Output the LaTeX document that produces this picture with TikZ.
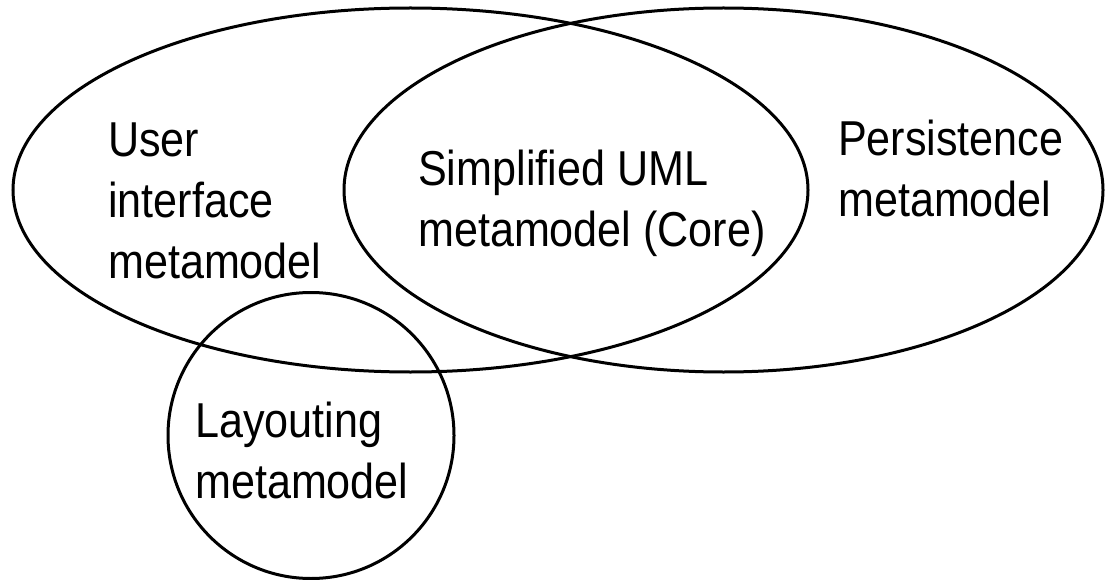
\documentclass[tikz,border=0pt]{standalone}
\usepackage{fontspec}
\setmainfont{Liberation Sans}[FakeStretch=0.88]
\usetikzlibrary{positioning}

\tikzset{
  setline/.style={black, line width=3pt},
  setlabel/.style={align=left, anchor=base west, inner sep=0pt, text=black,
    font=\fontsize{49}{61}\selectfont}
}

\begin{document}
\begin{tikzpicture}[x=1pt, y=-1pt]
\useasboundingbox (0,0) rectangle (1105,580);

% the three sets of the top row
\draw[setline] (410.5,190) ellipse [x radius=397.5pt, y radius=182pt];
\draw[setline] (723.5,190) ellipse [x radius=379.5pt, y radius=182pt];
\draw[setline] (311,435.5) circle [radius=143pt];

% labels, anchored at the baseline of their last line
\node[setlabel] (uiLabel) at (108,278) {User\\interface\\metamodel};
\node[setlabel] (coreLabel) at (418,246) {Simplified UML\\metamodel (Core)};
\node[setlabel] (persistLabel) at (838,216) {Persistence\\metamodel};
\node[setlabel] (layoutLabel) at (195,498) {Layouting\\metamodel};

\end{tikzpicture}
\end{document}
